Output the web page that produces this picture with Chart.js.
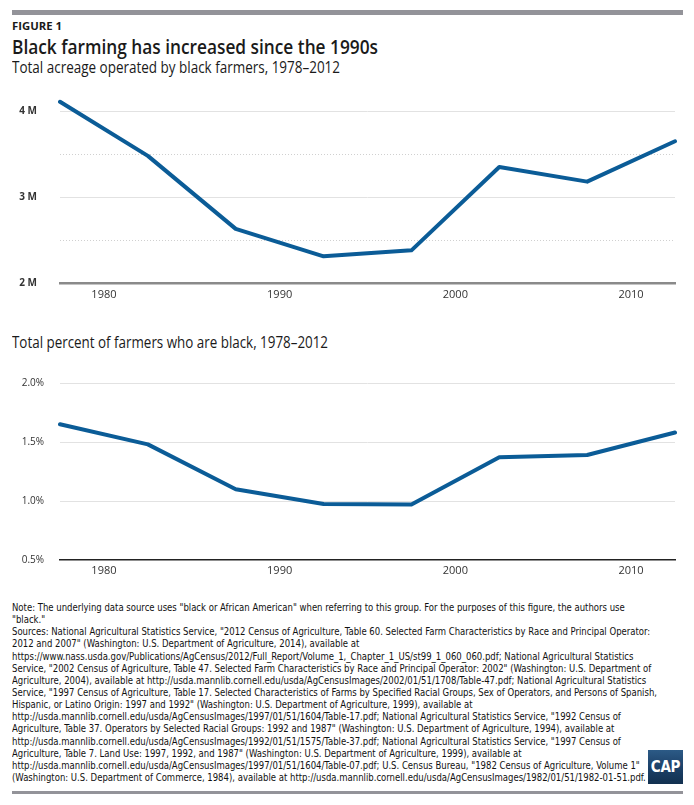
<!DOCTYPE html>
<html>
<head>
<meta charset="utf-8">
<title>Black farming has increased since the 1990s</title>
<script src="https://cdn.jsdelivr.net/npm/chart.js@4.4.1/dist/chart.umd.min.js"></script>
<style>
  body { margin: 0; width: 694px; height: 805px; background: #fff; position: relative; overflow: hidden;
         font-family: "Open Sans", "Noto Sans", sans-serif; color: #1a1a1a; }
  .rule { position: absolute; left: 12px; width: 671px; background: #939399; }
  .fit { position: absolute; left: 12px; white-space: nowrap; line-height: 1; transform-origin: 0 0; }
  .chart { position: absolute; left: 0; width: 694px; }
  #notes { position: absolute; left: 12px; top: 602px; font-family: "Liberation Sans Narrow", "DejaVu Sans Condensed", sans-serif;
           font-size: 10px; line-height: 12.14px; transform-origin: 0 0; color: #111; }
  #notes div { white-space: nowrap; }
  #logo { position: absolute; left: 648px; top: 750px; width: 35px; height: 34px;
          background: linear-gradient(180deg, #2c5a86 0%, #1b3f66 55%, #12304f 100%);
          color: #fff; font-family: "Liberation Sans Narrow", "DejaVu Sans Condensed", sans-serif; font-weight: bold;
          font-size: 15px; text-align: center; line-height: 34px; letter-spacing: -0.3px; }
</style>
</head>
<body>
<div class="rule" style="top:10px;height:5px;"></div>
<div class="fit" id="fig" style="top:19.5px;font-size:11px;font-weight:700;" data-w="50">FIGURE 1</div>
<div class="fit" id="title" style="top:37px;font-size:20px;font-weight:600;" data-w="366">Black farming has increased since the 1990s</div>
<div class="fit" id="sub1" style="top:59px;font-size:16px;" data-w="328">Total acreage operated by black farmers, 1978–2012</div>
<div class="fit" id="sub2" style="top:334px;font-size:16px;" data-w="316">Total percent of farmers who are black, 1978–2012</div>

<canvas id="acreChart" class="chart" style="top:80px;" width="694" height="230"></canvas>
<canvas id="pctChart" class="chart" style="top:365px;" width="694" height="220"></canvas>

<div id="notes">
  <div>Note: The underlying data source uses "black or African American" when referring to this group. For the purposes of this figure, the authors use</div>
  <div>"black."</div>
  <div>Sources: National Agricultural Statistics Service, "2012 Census of Agriculture, Table 60. Selected Farm Characteristics by Race and Principal Operator:</div>
  <div>2012 and 2007" (Washington: U.S. Department of Agriculture, 2014), available at</div>
  <div>https://www.nass.usda.gov/Publications/AgCensus/2012/Full_Report/Volume_1,_Chapter_1_US/st99_1_060_060.pdf; National Agricultural Statistics</div>
  <div>Service, "2002 Census of Agriculture, Table 47. Selected Farm Characteristics by Race and Principal Operator: 2002" (Washington: U.S. Department of</div>
  <div>Agriculture, 2004), available at http://usda.mannlib.cornell.edu/usda/AgCensusImages/2002/01/51/1708/Table-47.pdf; National Agricultural Statistics</div>
  <div>Service, "1997 Census of Agriculture, Table 17. Selected Characteristics of Farms by Specified Racial Groups, Sex of Operators, and Persons of Spanish,</div>
  <div>Hispanic, or Latino Origin: 1997 and 1992" (Washington: U.S. Department of Agriculture, 1999), available at</div>
  <div>http://usda.mannlib.cornell.edu/usda/AgCensusImages/1997/01/51/1604/Table-17.pdf; National Agricultural Statistics Service, "1992 Census of</div>
  <div>Agriculture, Table 37. Operators by Selected Racial Groups: 1992 and 1987" (Washington: U.S. Department of Agriculture, 1994), available at</div>
  <div>http://usda.mannlib.cornell.edu/usda/AgCensusImages/1992/01/51/1575/Table-37.pdf; National Agricultural Statistics Service, "1997 Census of</div>
  <div>Agriculture, Table 7. Land Use: 1997, 1992, and 1987" (Washington: U.S. Department of Agriculture, 1999), available at</div>
  <div>http://usda.mannlib.cornell.edu/usda/AgCensusImages/1997/01/51/1604/Table-07.pdf; U.S. Census Bureau, "1982 Census of Agriculture, Volume 1"</div>
  <div>(Washington: U.S. Department of Commerce, 1984), available at http://usda.mannlib.cornell.edu/usda/AgCensusImages/1982/01/51/1982-01-51.pdf.</div>
</div>
<div id="logo">CAP</div>
<div class="rule" style="top:791px;height:3px;"></div>

<script>
// census years (evenly spaced in the figure)
const censusYears = ['1978', '1982', '1987', '1992', '1997', '2002', '2007', '2012'];
const decadeTicks = [1980, 1990, 2000, 2010];

// acreage operated by black farmers, millions of acres
const acreageMillions = [4.11, 3.48, 2.63, 2.31, 2.38, 3.35, 3.18, 3.65];
const acreageMajorTicks = [2, 3, 4];
const acreageMinorTicks = [2.5, 3.5];

// percent of farmers who are black
const percentBlack = [1.65, 1.48, 1.10, 0.975, 0.97, 1.37, 1.39, 1.58];
const percentTicks = [0.5, 1.0, 1.5, 2.0];

const LINE_BLUE = '#0b5c97';
const GRID_GRAY = '#e2e2e2';

function fixedTicks(list) {
    return scale => { scale.ticks = list.map(v => ({ value: v })); };
}

// keep the y axis from pushing the plot area around with its label padding
function fixYWidth(w) {
    return scale => { scale.width = w; scale.paddingTop = 0; scale.paddingBottom = 0; };
}

function buildChart(id, values, cfg) {
    const scales = {
        x: { type: 'category', display: false, offset: false },
        xYears: {
            axis: 'x', type: 'linear', position: 'bottom',
            min: 1977.5, max: 2012.5,
            afterBuildTicks: fixedTicks(decadeTicks),
            afterFit: s => { s.height = cfg.xAxisHeight; },
            grid: { display: false, drawTicks: false },
            border: { color: cfg.axisColor, width: cfg.axisWidth },
            ticks: { padding: cfg.xPad, color: '#333', font: { size: 11, family: 'Open Sans' }, callback: v => String(v) }
        },
        y: {
            position: 'left', min: cfg.min, max: cfg.max,
            afterBuildTicks: fixedTicks(cfg.ticks),
            afterFit: fixYWidth(60),
            border: { display: false },
            grid: { drawTicks: false, lineWidth: 1, color: c => c.tick && c.tick.value === cfg.min ? 'rgba(0,0,0,0)' : GRID_GRAY },
            ticks: { padding: cfg.yPad, color: '#333', font: { size: 10, weight: cfg.yBold ? 'bold' : 'normal', family: 'Open Sans' }, callback: cfg.yLabel }
        }
    };
    if (cfg.minorTicks) {
        scales.yMinor = {
            axis: 'y', position: 'left', min: cfg.min, max: cfg.max,
            afterBuildTicks: fixedTicks(cfg.minorTicks),
            afterFit: fixYWidth(0),
            border: { display: false, dash: [1, 2] },
            grid: { drawTicks: false, color: '#d0d0d0', lineWidth: 1 },
            ticks: { display: false }
        };
    }
    return new Chart(document.getElementById(id), {
        type: 'line',
        data: {
            labels: censusYears,
            datasets: [{
                data: values,
                borderColor: LINE_BLUE,
                borderWidth: 4,
                pointRadius: 0,
                tension: 0,
                borderJoinStyle: 'round',
                borderCapStyle: 'round'
            }]
        },
        options: {
            responsive: false,
            animation: false,
            devicePixelRatio: 1,
            layout: { padding: { top: cfg.padTop, right: 19, left: 0, bottom: 0 } },
            plugins: { legend: { display: false }, tooltip: { enabled: false } },
            scales: scales
        }
    });
}

buildChart('acreChart', acreageMillions, {
    min: 2, max: 4.2, ticks: acreageMajorTicks, minorTicks: acreageMinorTicks,
    padTop: 14, xAxisHeight: 27, xPad: 5, yPad: 23, yBold: true,
    axisColor: '#8a8a8a', axisWidth: 2.5,
    yLabel: v => v + ' M'
});

buildChart('pctChart', percentBlack, {
    min: 0.5, max: 2.0, ticks: percentTicks,
    padTop: 18, xAxisHeight: 25, xPad: 4, yPad: 16, yBold: false,
    axisColor: '#222', axisWidth: 1.5,
    yLabel: v => v.toFixed(1) + '%'
});

// squeeze header texts and notes to the widths of the original typeface
document.querySelectorAll('.fit').forEach(el => {
    const w = el.getBoundingClientRect().width;
    el.style.transform = 'scaleX(' + (Number(el.dataset.w) / w) + ')';
});
const notes = document.getElementById('notes');
const noteW = notes.children[4].getBoundingClientRect().width;
notes.style.transform = 'scaleX(' + (645 / noteW) + ')';
</script>
</body>
</html>
